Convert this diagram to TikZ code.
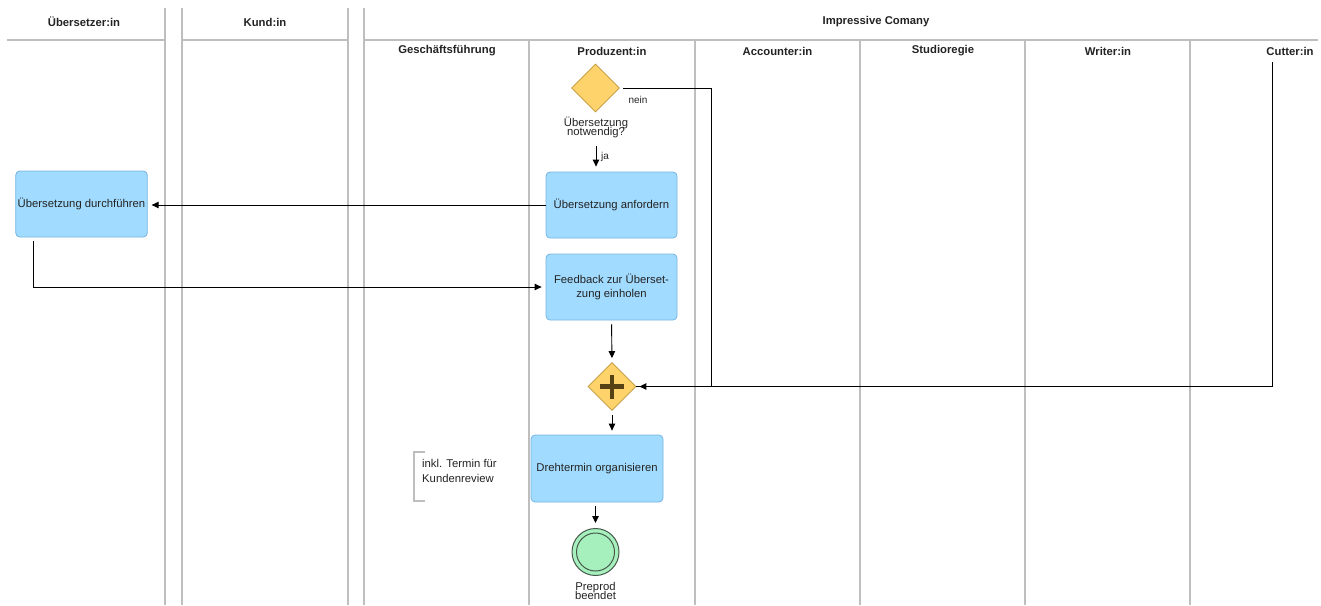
\documentclass[tikz,border=0pt]{standalone}
\usepackage{fontspec}
\setmainfont{Liberation Sans}
\usetikzlibrary{arrows.meta,shapes.geometric}
\definecolor{taskfill}{RGB}{161,219,255}
\definecolor{taskdraw}{RGB}{120,180,225}
\definecolor{gwfill}{RGB}{255,211,107}
\definecolor{gwdraw}{RGB}{190,150,60}
\definecolor{endfill}{RGB}{166,240,189}
\definecolor{enddraw}{RGB}{70,90,75}
\definecolor{laneline}{RGB}{190,190,190}
\definecolor{txt}{RGB}{35,35,35}
\definecolor{plusc}{RGB}{85,65,20}
\tikzset{
  task/.style={draw=taskdraw, fill=taskfill, rounded corners=4pt, minimum width=131pt,
    minimum height=66pt, align=center, font=\fontsize{11.3}{14}\selectfont, text=txt,
    line width=0.8pt, inner sep=2pt},
  gateway/.style={diamond, draw=gwdraw, fill=gwfill, minimum size=48pt, inner sep=0pt, line width=0.8pt},
  endevent/.style={circle, draw=enddraw, fill=endfill, minimum size=47pt, inner sep=0pt, line width=1pt},
  lbl/.style={font=\fontsize{11.3}{12}\selectfont, text=txt, align=center, inner sep=1pt},
  small/.style={font=\fontsize{10}{12}\selectfont, text=txt, inner sep=1pt},
  hdr/.style={font=\bfseries\fontsize{11.3}{13}\selectfont, text=txt, inner sep=0pt},
  pool/.style={draw=laneline, line width=1.4pt},
  lane/.style={draw=laneline, line width=1.2pt},
  flow/.style={draw=black, line width=0.9pt, -{Triangle[length=7pt,width=6.5pt]}},
  plainflow/.style={draw=black, line width=0.9pt},
  annline/.style={draw=laneline, line width=1.2pt},
}
\begin{document}
\begin{tikzpicture}[x=1pt,y=-1pt]
\useasboundingbox (0,0) rectangle (1321,605);
% pools
\draw[pool] (7,40) -- (165,40);
\draw[pool] (182,40) -- (348,40);
\draw[pool] (364,40) -- (1318,40);
\foreach \x in {165,182,348,364} \draw[pool] (\x,8) -- (\x,605);
\foreach \x in {529,695,860,1025,1190} \draw[lane] (\x,40) -- (\x,605);
% headers
\node[hdr] (hU) at (84,22) {Übersetzer:in};
\node[hdr] (hK) at (265,22) {Kund:in};
\node[hdr] (hI) at (876,22) {Impressive Comany};
\node[hdr] (lG) at (447,51) {Geschäftsführung};
\node[hdr] (lP) at (612,51) {Produzent:in};
\node[hdr] (lA) at (777.5,51) {Accounter:in};
\node[hdr] (lS) at (943,51) {Studioregie};
\node[hdr] (lW) at (1108,51) {Writer:in};
\node[hdr] (lC) at (1290,51) {Cutter:in};
% elements
\node[gateway] (g1) at (595.5,88) {};
\node[lbl] (g1lab) at (596,127) {Übersetzung\\[-3pt]notwendig?};
\node[small] (nein) at (638,99.5) {nein};
\node[task] (tA) at (611.5,205) {Übersetzung anfordern};
\node[task] (tD) at (81.5,204) {Übersetzung durchführen};
\node[task] (tF) at (611.5,287) {Feedback zur Überset-\\zung einholen};
\node[gateway] (g2) at (612,386.5) {};
\draw[line width=4.2pt, plusc] ([xshift=-12pt]g2.center) -- ([xshift=12pt]g2.center);
\draw[line width=4.2pt, plusc] ([yshift=-12pt]g2.center) -- ([yshift=12pt]g2.center);
\node[task, minimum width=132pt, minimum height=67pt] (tO) at (597,468.5) {Drehtermin organisieren};
\node[endevent] (end) at (595.5,552) {};
\draw[draw=enddraw, line width=1pt] (end.center) circle[radius=19pt];
\node[lbl] (endlab) at (595.5,591) {Preprod\\[-3pt]beendet};
% annotation
\node[lbl, align=left, anchor=west, font=\fontsize{11.3}{15}\selectfont] (ann) at (421,470.5) {inkl. Termin für\\Kundenreview};
\coordinate (b1) at (425,452);
\coordinate (b2) at (425,501);
\draw[annline] (b1) -- ++(-11,0) |- (b2);
% flows
\draw[flow, shorten <=7pt, shorten >=5pt] (g1lab.south) -- (g1lab.south |- tA.north);
\node[small, anchor=west] (ja) at (600,157) {ja};
\draw[plainflow, shorten <=3pt] (g1.east) -- (711,88) -- (711,386.5) -- (g2.east);
\coordinate (cut) at (1272,62);
\draw[flow, shorten >=3pt] (cut) |- (g2.east);
\draw[flow, shorten >=4pt] (tA.west) -- (tA.west -| tD.east);
\draw[flow, shorten >=4pt] ([xshift=18pt,yshift=-4pt]tD.south west) |- (tF.west);
\draw[flow, shorten <=4pt, shorten >=4pt] (tF.south) -- (g2.north);
\draw[flow, shorten <=4pt, shorten >=4pt] (g2.south) -- (g2.south |- tO.north);
\draw[flow, shorten <=4pt, shorten >=5pt] (end.north |- tO.south) -- (end.north);
\end{tikzpicture}
\end{document}
